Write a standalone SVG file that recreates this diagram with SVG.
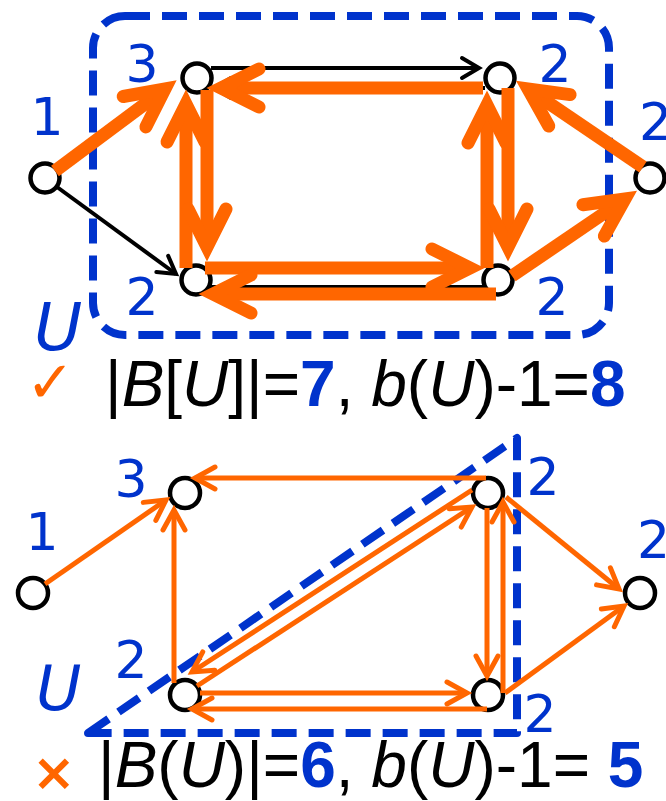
<svg xmlns="http://www.w3.org/2000/svg" width="666" height="801" viewBox="0 0 666 801">
<style>
.thick{fill:none;stroke:#ff6600;stroke-width:13;stroke-linecap:butt}
.thin{fill:none;stroke:#ff6600;stroke-width:5;stroke-linecap:butt}
.blk{fill:none;stroke:#000;stroke-width:4}
.node{fill:#fff;stroke:#000;stroke-width:4.5}
.dash{fill:none;stroke:#0033cc;stroke-width:8;stroke-dasharray:25 12;stroke-linejoin:round}
.lbl{font-family:"DejaVu Sans",Verdana,sans-serif;font-size:52px;fill:#0033cc}
.U{font-family:"DejaVu Sans",Verdana,sans-serif;font-style:italic;fill:#0033cc}
.f{font-family:"Liberation Sans",Arial,sans-serif;font-size:64px;fill:#000}
.it{font-style:italic}
.bn{font-weight:bold;fill:#0033cc}
</style>
<defs>
<marker id="ah" markerUnits="userSpaceOnUse" orient="auto" markerWidth="1" markerHeight="1" refX="0" refY="0" overflow="visible"><path d="M-38,-19 L0,0 L-38,19" fill="none" stroke="#ff6600" stroke-width="13" stroke-linecap="round" stroke-linejoin="miter"/></marker>
<marker id="ahb" markerUnits="userSpaceOnUse" orient="auto" markerWidth="1" markerHeight="1" refX="0" refY="0" overflow="visible"><path d="M-17,-10 L0,0 L-17,10" fill="none" stroke="#000" stroke-width="4" stroke-linecap="round" stroke-linejoin="miter"/></marker>
<marker id="aht" markerUnits="userSpaceOnUse" orient="auto" markerWidth="1" markerHeight="1" refX="0" refY="0" overflow="visible"><path d="M-20,-11 L0,0 L-20,11" fill="none" stroke="#ff6600" stroke-width="5" stroke-linecap="round" stroke-linejoin="miter"/></marker>
</defs>

<!-- top region -->
<rect class="dash" x="93" y="16" width="516" height="319" rx="32"/>
<g id="top-black-connectors">
<path class="blk" d="M211,68 L479,68" marker-end="url(#ahb)"/>
<path class="blk" d="M57,187 L176,274" marker-end="url(#ahb)"/>
<path class="blk" d="M485,88 L214,88" marker-end="url(#ahb)"/>
<path class="blk" d="M210,287 L484,287"/>
</g>
<g id="top-n1"><circle class="node" cx="45" cy="178" r="14.5"/></g>
<g id="top-nA"><circle class="node" cx="197" cy="78" r="14.5"/></g>
<g id="top-nB"><circle class="node" cx="196" cy="280" r="14.5"/></g>
<g id="top-nC"><circle class="node" cx="500" cy="78" r="14.5"/></g>
<g id="top-nD"><circle class="node" cx="498" cy="280" r="14.5"/></g>
<g id="top-nE"><circle class="node" cx="650" cy="178" r="14.5"/></g>
<g id="top-orange-connectors">
<path class="thick" d="M55,171 L165,89" marker-end="url(#ah)"/>
<path class="thick" d="M483,88 L221,88" marker-end="url(#ah)"/>
<path class="thick" d="M186,268 L186,104" marker-end="url(#ah)"/>
<path class="thick" d="M207,90 L207,247" marker-end="url(#ah)"/>
<path class="thick" d="M205,268 L470,268" marker-end="url(#ah)"/>
<path class="thick" d="M496,294 L213,294" marker-end="url(#ah)"/>
<path class="thick" d="M487,268 L487,105" marker-end="url(#ah)"/>
<path class="thick" d="M508,88 L508,247" marker-end="url(#ah)"/>
<path class="thick" d="M643,167 L528,89" marker-end="url(#ah)"/>
<path class="thick" d="M512,276 L625,199" marker-end="url(#ah)"/>
</g>
<g id="top-labels">
<text class="lbl" x="47" y="135" text-anchor="middle">1</text>
<text class="lbl" x="142" y="82" text-anchor="middle">3</text>
<text class="lbl" x="142" y="315" text-anchor="middle">2</text>
<text class="lbl" x="555" y="82" text-anchor="middle">2</text>
<text class="lbl" x="639" y="140">2</text>
<text class="lbl" x="552" y="315" text-anchor="middle">2</text>
<text class="U" x="34" y="350" font-size="66">U</text>
</g>
<g id="formula1">
<text x="26" y="402" font-family="DejaVu Sans,sans-serif" font-size="58" fill="#ff6600">✓</text>
<text class="f" x="105" y="406">|<tspan class="it">B</tspan>[<tspan class="it">U</tspan>]|=<tspan class="bn">7</tspan>, <tspan class="it">b</tspan>(<tspan class="it">U</tspan>)-1=<tspan class="bn">8</tspan></text>
</g>

<!-- bottom region -->
<path class="dash" d="M88,733 L517,438 L517,733 Z"/>
<g id="bot-n1"><circle class="node" cx="33" cy="593" r="15"/></g>
<g id="bot-nA"><circle class="node" cx="185" cy="493" r="15"/></g>
<g id="bot-nB"><circle class="node" cx="185" cy="695" r="15"/></g>
<g id="bot-nC"><circle class="node" cx="488" cy="493" r="15"/></g>
<g id="bot-nD"><circle class="node" cx="488" cy="695" r="15"/></g>
<g id="bot-nE"><circle class="node" cx="640" cy="593" r="15"/></g>
<g id="bot-orange-connectors">
<path class="thin" d="M45,584 L166,500" marker-end="url(#aht)"/>
<path class="thin" d="M174,683 L174,510" marker-end="url(#aht)"/>
<path class="thin" d="M486,478 L195,478" marker-end="url(#aht)"/>
<path class="thin" d="M472,490 L192,672" marker-end="url(#aht)"/>
<path class="thin" d="M197,686 L472,507" marker-end="url(#aht)"/>
<path class="thin" d="M200,693 L467,693" marker-end="url(#aht)"/>
<path class="thin" d="M487,709 L192,709" marker-end="url(#aht)"/>
<path class="thin" d="M487,508 L487,676" marker-end="url(#aht)"/>
<path class="thin" d="M503,693 L503,502" marker-end="url(#aht)"/>
<path class="thin" d="M506,497 L619,589" marker-end="url(#aht)"/>
<path class="thin" d="M505,693 L624,606" marker-end="url(#aht)"/>
</g>
<g id="bot-labels">
<text class="lbl" x="42" y="550" text-anchor="middle">1</text>
<text class="lbl" x="131" y="497" text-anchor="middle">3</text>
<text class="lbl" x="131" y="678" text-anchor="middle">2</text>
<text class="lbl" x="543" y="495" text-anchor="middle">2</text>
<text class="lbl" x="637" y="558">2</text>
<text class="lbl" x="540" y="732" text-anchor="middle">2</text>
<text class="U" x="36" y="710" font-size="62">U</text>
</g>
<g id="formula2">
<text x="32" y="790" font-family="DejaVu Sans,sans-serif" font-size="52" font-weight="bold" fill="#ff6600">×</text>
<text class="f" x="98" y="787">|<tspan class="it">B</tspan>(<tspan class="it">U</tspan>)|=<tspan class="bn">6</tspan>, <tspan class="it">b</tspan>(<tspan class="it">U</tspan>)-1= <tspan class="bn">5</tspan></text>
</g>
</svg>
